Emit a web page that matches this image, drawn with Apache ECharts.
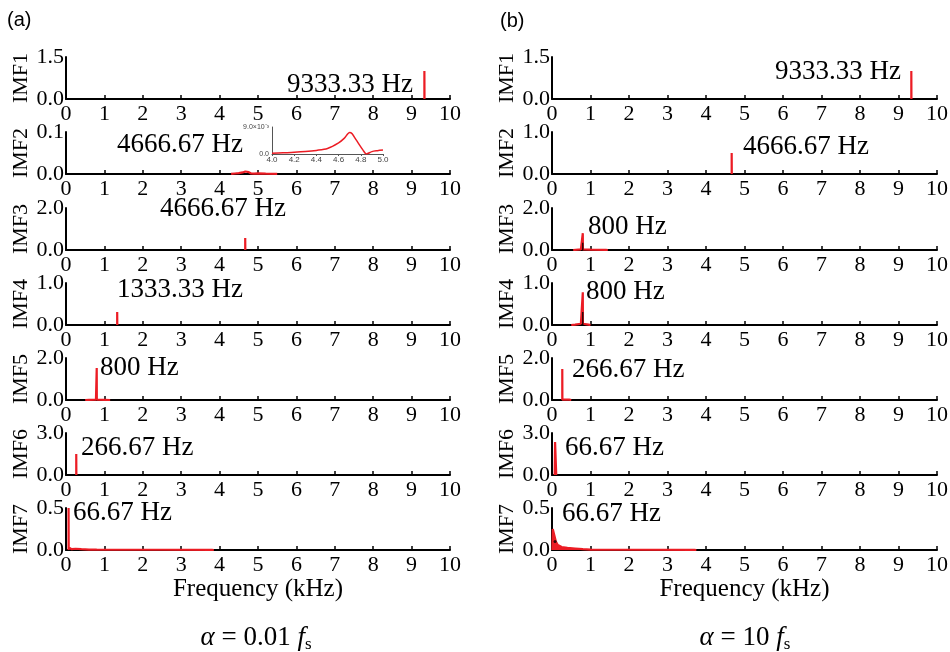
<!DOCTYPE html>
<html><head><meta charset="utf-8">
<script src="https://cdn.jsdelivr.net/npm/echarts@6/dist/echarts.min.js"></script>
<style>html,body{margin:0;padding:0;background:#fff}#c{width:950px;height:652px}</style>
</head><body><div id="c"></div>
<script>
// ---------- data ----------
const imfNames = ['IMF1','IMF2','IMF3','IMF4','IMF5','IMF6','IMF7'];
const xTickMax = 10;
const yMaxA = [1.5, 0.1, 2.0, 1.0, 2.0, 3.0, 0.5];
const yMaxB = [1.5, 1.0, 2.0, 1.0, 2.0, 3.0, 0.5];
const peakLabelsA = ['9333.33 Hz','4666.67 Hz','4666.67 Hz','1333.33 Hz','800 Hz','266.67 Hz','66.67 Hz'];
const peakLabelsB = ['9333.33 Hz','4666.67 Hz','800 Hz','800 Hz','266.67 Hz','66.67 Hz','66.67 Hz'];
const captionA = '0.01';
const captionB = '10';

// (a) alpha = 0.01 fs   [frequency kHz, amplitude]
const imf1A = [[9.333,0],[9.333,1.0],[9.336,0]];
const imf2A = [[4.3,0.0002],[4.4,0.0012],[4.5,0.0019],[4.6,0.0037],[4.67,0.0059],[4.7,0.0072],[4.76,0.0046],[4.82,0.0013],[4.85,0],[4.9,0.0008],[5.0,0.0013],[5.2,0.0008],[5.5,0.0005]];
const imf3A = [[4.667,0],[4.667,0.57],[4.67,0]];
const imf4A = [[1.333,0],[1.333,0.31],[1.336,0]];
const imf5A = [[0.5,0],[0.6,0.01],[0.78,0.02],[0.8,0],[0.8,1.52],[0.803,0.02],[1.0,0.01],[1.15,0]];
const imf6A = [[0.267,0],[0.267,1.5],[0.27,0]];
const imf7A = [[0.067,0],[0.067,0.5],[0.07,0.03],[0.15,0.01],[0.25,0.015],[0.4,0.01],[0.6,0.005],[0.8,0.004],[1.5,0.003],[2.5,0.003],[3.8,0.002],[3.85,0]];
// inset of IMF2 (a), 4.0 - 5.0 kHz
const insetA = [[4.0,0.00023],[4.1,0.0004],[4.2,0.00056],[4.3,0.0008],[4.4,0.0012],[4.5,0.00185],[4.6,0.0037],[4.65,0.0052],[4.7,0.0072],[4.72,0.0068],[4.76,0.0046],[4.82,0.0013],[4.85,0],[4.9,0.0008],[4.95,0.0011],[5.0,0.0013]];

// (b) alpha = 10 fs
const imf1B = [[9.333,0],[9.333,1.0],[9.336,0]];
const imf2B = [[4.667,0],[4.667,0.5],[4.67,0]];
const imf3B = [[0.55,0],[0.6,0.02],[0.75,0.03],[0.8,0],[0.8,0.8],[0.803,0.03],[1.0,0.02],[1.4,0.01],[1.45,0]];
const imf3Bk = [[0.8,0],[0.8,0.35]];
const imf4B = [[0.5,0],[0.6,0.01],[0.75,0.03],[0.8,0],[0.8,0.78],[0.803,0.03],[0.95,0.01],[1.0,0]];
const imf4Bk = [[0.8,0],[0.8,0.31]];
const imf5B = [[0.267,0],[0.267,1.48],[0.27,0.02],[0.45,0.02],[0.5,0]];
const imf6B = [[0.07,0],[0.08,2.36],[0.1,2.36],[0.11,0]];
const imf7B = [[0.01,0],[0.02,0.25],[0.07,0.25],[0.1,0.1],[0.15,0.06],[0.25,0.035],[0.4,0.025],[0.6,0.018],[0.8,0.01],[1.0,0.004],[2.0,0.003],[3.7,0.002],[3.75,0]];
const imf7Bk = [[0.08,0.1]];

const seriesA = [imf1A, imf2A, imf3A, imf4A, imf5A, imf6A, imf7A];
const seriesB = [imf1B, imf2B, imf3B, imf4B, imf5B, imf6B, imf7B];
const blackB = {2: imf3Bk, 3: imf4Bk};

// ---------- layout ----------
const SERIF = '"Liberation Serif","Times New Roman",serif';
const SANS = '"Liberation Sans",Arial,sans-serif';
const RED = '#ec1c24';
const panels = [{left:66, width:384}, {left:552, width:385}];
const rowTop = [57,132,208,283,358,433,508];
const rowH = 42;
const annotA = [[287,85],[117,145],[160,209],[117,290],[100,368],[81,448],[73,513]];
const annotB = [[775,72],[743,147],[588,227],[586,292],[572,370],[565,448],[562,514]];

const grid = [], xAxis = [], yAxis = [], series = [];
panels.forEach((p, pi) => {
  const maxes = pi === 0 ? yMaxA : yMaxB;
  const data = pi === 0 ? seriesA : seriesB;
  imfNames.forEach((nm, r) => {
    const idx = grid.length;
    grid.push({left:p.left, top:rowTop[r], width:p.width, height:rowH, outerBoundsMode:'none', containLabel:false});
    xAxis.push({
      type:'value', gridIndex:idx, min:0, max:xTickMax, interval:1,
      axisLine:{show:true, onZero:false, lineStyle:{color:'#000', width:2}},
      axisTick:{show:true, inside:true, length:4, lineStyle:{color:'#000', width:1.5}},
      axisLabel:{show:true, fontFamily:SERIF, fontSize:22, color:'#000', margin:4, showMinLabel:true, showMaxLabel:true},
      splitLine:{show:false},
      name: r === 6 ? 'Frequency (kHz)' : '',
      nameLocation:'middle', nameGap:25,
      nameTextStyle:{fontFamily:SERIF, fontSize:25, color:'#000'}
    });
    yAxis.push({
      type:'value', gridIndex:idx, min:0, max:maxes[r], interval:maxes[r],
      axisLine:{show:true, onZero:false, lineStyle:{color:'#000', width:2}},
      axisTick:{show:false},
      axisLabel:{show:true, fontFamily:SERIF, fontSize:22, color:'#000', margin:2, formatter:v=>v.toFixed(1), showMinLabel:true, showMaxLabel:true},
      splitLine:{show:false},
      name:nm, nameLocation:'middle', nameRotate:90, nameGap:32,
      nameTextStyle:{fontFamily:SERIF, fontSize:22, color:'#000'}
    });
    const filled = (pi === 1 && (r === 5 || r === 6));
    series.push({
      type:'line', xAxisIndex:idx, yAxisIndex:idx, data:data[r], showSymbol:false,
      lineStyle:{color:RED, width:2.2, cap:'butt', join:'bevel'}, areaStyle: filled ? {color:RED, opacity:1} : undefined,
      silent:true, animation:false, z:5
    });
    if (pi === 1 && blackB[r]) {
      series.push({type:'line', xAxisIndex:idx, yAxisIndex:idx, data:blackB[r], showSymbol:false,
        lineStyle:{color:'#000', width:1.2}, silent:true, animation:false, z:6});
    }
    if (pi === 1 && r === 6) {
      series.push({type:'scatter', xAxisIndex:idx, yAxisIndex:idx, data:imf7Bk, symbolSize:3,
        itemStyle:{color:'#000'}, silent:true, animation:false, z:6});
    }
  });
});

// inset
const insIdx = grid.length;
grid.push({left:272, top:127, width:111, height:27, outerBoundsMode:'none', containLabel:false});
xAxis.push({
  type:'value', gridIndex:insIdx, min:4, max:5, interval:0.2,
  axisLine:{show:true, onZero:false, lineStyle:{color:'#555', width:1}},
  axisTick:{show:true, length:2, lineStyle:{color:'#555', width:1}},
  axisLabel:{fontFamily:SANS, fontSize:8, color:'#444', margin:2, formatter:v=>v.toFixed(1), showMinLabel:true, showMaxLabel:true},
  splitLine:{show:false}
});
yAxis.push({
  type:'value', gridIndex:insIdx, min:0, max:0.009, interval:0.009,
  axisLine:{show:true, onZero:false, lineStyle:{color:'#555', width:1}},
  axisTick:{show:false},
  axisLabel:{fontFamily:SANS, fontSize:7, color:'#444', margin:3, formatter:v=>v===0?'0.0':'9.0×10⁻³', showMinLabel:true, showMaxLabel:true},
  splitLine:{show:false}
});
series.push({type:'line', xAxisIndex:insIdx, yAxisIndex:insIdx, data:insetA, showSymbol:false, smooth:0.3,
  lineStyle:{color:RED, width:1.5}, silent:true, animation:false, z:5});

// texts
const graphic = [];
const addText = (x, y, text, size, family, extra) => graphic.push({type:'text', x, y, silent:true,
  style:Object.assign({text, fontSize:size, fontFamily:family, fill:'#000', align:'left', verticalAlign:'middle'}, extra||{})});
peakLabelsA.forEach((t,i)=>addText(annotA[i][0], annotA[i][1], t, 27, SERIF));
peakLabelsB.forEach((t,i)=>addText(annotB[i][0], annotB[i][1], t, 27, SERIF));
addText(7, 20, '(a)', 20, SANS);
addText(500, 21, '(b)', 20, SANS);
const capRich = {a:{fontStyle:'italic', fontSize:27, fontFamily:SERIF}, n:{fontSize:27, fontFamily:SERIF},
  s:{fontSize:17, fontFamily:SERIF, padding:[14,0,0,0]}};
addText(256, 638, '{a|α}{n| = '+captionA+' }{a|f}{s|s}', 27, SERIF, {align:'center', rich:capRich});
addText(745, 638, '{a|α}{n| = '+captionB+' }{a|f}{s|s}', 27, SERIF, {align:'center', rich:capRich});

const chart = echarts.init(document.getElementById('c'), null, {renderer:'canvas'});
chart.setOption({animation:false, backgroundColor:'#fff', grid, xAxis, yAxis, series, graphic});
</script>
</body></html>
